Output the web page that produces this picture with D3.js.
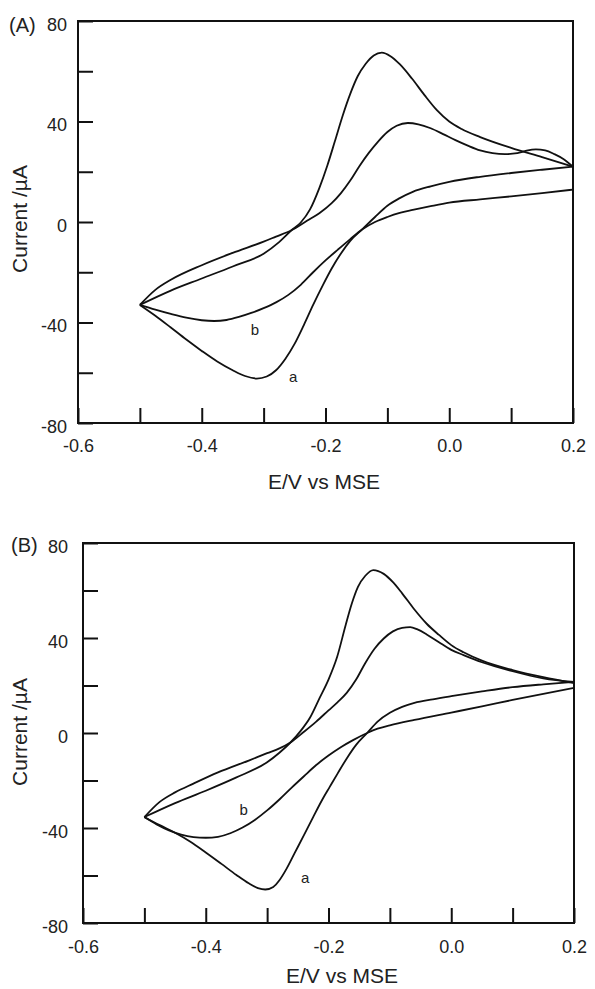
<!DOCTYPE html>
<html>
<head>
<meta charset="utf-8">
<script src="https://cdn.jsdelivr.net/npm/d3@7"></script>
<style>
  body { margin: 0; background: #fff; }
  svg text { font-family: "Liberation Sans", Arial, sans-serif; fill: #222; }
</style>
</head>
<body>
<svg id="chart" width="595" height="989"></svg>
<script>
// each CV loop is kept as its two sweeps: [E (V), I (uA)]
// panel A, curve a
const aA_low = [
  [-0.5,-33],[-0.475,-37.3],[-0.45,-42],[-0.425,-46.8],[-0.4,-51.3],[-0.375,-55.5],[-0.35,-59],
  [-0.33,-61.3],[-0.311,-62.3],[-0.295,-61.5],[-0.28,-59],[-0.265,-54.5],[-0.25,-48.5],[-0.235,-41],
  [-0.22,-33],[-0.204,-25],[-0.19,-18.5],[-0.175,-12.5],[-0.16,-7.5],[-0.141,-3],[-0.12,2],
  [-0.1,6.5],[-0.08,9.5],[-0.059,12],[-0.03,14.2],[0,16],[0.05,18],[0.1,19.5],[0.15,20.8],[0.2,22]
]
const aA_up = [
  [0.2,22],[0.15,25.8],[0.1,29.5],[0.05,33.8],[0.02,37],[0,40],[-0.02,44.5],[-0.04,50.5],
  [-0.06,57],[-0.08,62.8],[-0.095,66],[-0.109,67.4],[-0.122,66.3],[-0.135,63],[-0.148,58],
  [-0.16,51],[-0.172,42.5],[-0.185,32],[-0.197,22.5],[-0.21,13.5],[-0.225,5],[-0.24,-0.2],
  [-0.255,-3.3],[-0.275,-8],[-0.3,-12.6],[-0.35,-17.7],[-0.4,-22.5],[-0.45,-27.3],[-0.5,-33]
]
// panel A, curve b
const bA_low = [
  [-0.5,-33],[-0.475,-34.9],[-0.45,-36.6],[-0.425,-38.1],[-0.4,-39.1],[-0.38,-39.4],[-0.36,-39],
  [-0.34,-37.8],[-0.32,-36.2],[-0.3,-34.3],[-0.28,-32],[-0.26,-29],[-0.24,-25],[-0.22,-20],
  [-0.2,-15.3],[-0.18,-11],[-0.16,-6.8],[-0.141,-3],[-0.12,0],[-0.1,2],[-0.08,3.6],[-0.059,4.8],
  [-0.03,6.3],[0,7.7],[0.05,9],[0.1,10.2],[0.15,11.5],[0.2,12.9]
]
const bA_up = [
  [0.2,22],[0.185,25],[0.17,27],[0.155,28.5],[0.14,28.9],[0.125,28.4],[0.11,27.4],[0.09,27],
  [0.07,27.4],[0.05,28.5],[0.03,30.4],[0.01,32.6],[-0.01,35],[-0.03,37.3],[-0.05,38.9],
  [-0.067,39.4],[-0.085,38.3],[-0.1,35.8],[-0.115,32],[-0.13,27.5],[-0.145,22.3],[-0.16,16.5],
  [-0.175,11.5],[-0.19,7.5],[-0.21,3.5],[-0.23,0.5],[-0.255,-3.3],[-0.28,-5.8],[-0.3,-7.8],
  [-0.35,-12.3],[-0.4,-17.2],[-0.45,-23],[-0.475,-27],[-0.5,-33]
]
// panel B, curve a
const aB_low = [
  [-0.5,-35.4],[-0.475,-38.8],[-0.45,-42],[-0.425,-45.8],[-0.4,-50.3],[-0.375,-55],[-0.35,-59.8],
  [-0.33,-63.3],[-0.315,-65.3],[-0.303,-65.9],[-0.29,-64.8],[-0.28,-62],[-0.268,-57],[-0.255,-50.5],
  [-0.24,-43],[-0.225,-35.4],[-0.21,-28],[-0.198,-22.7],[-0.185,-17],[-0.17,-10.6],[-0.155,-5],
  [-0.137,0],[-0.12,4.8],[-0.1,8.5],[-0.08,11],[-0.06,12.7],[-0.03,14.2],[0,15.5],[0.05,17.5],
  [0.1,19.3],[0.15,20.5],[0.2,21.5]
]
const aB_up = [
  [0.2,21],[0.15,23.5],[0.1,26.5],[0.05,30.5],[0.02,34],[0,37],[-0.02,41.3],[-0.04,46],
  [-0.06,52],[-0.08,58.8],[-0.095,63.5],[-0.11,67],[-0.127,68.6],[-0.14,66.2],[-0.152,61.5],
  [-0.162,54.5],[-0.172,45.5],[-0.186,32],[-0.2,22.5],[-0.214,15],[-0.23,6.5],[-0.245,1],[-0.262,-4],
  [-0.28,-8.3],[-0.3,-12.3],[-0.35,-18.7],[-0.4,-24.3],[-0.45,-29.5],[-0.5,-35.4]
]
// panel B, curve b
const bB_low = [
  [-0.5,-35.4],[-0.48,-38.5],[-0.46,-41],[-0.44,-42.8],[-0.42,-43.8],[-0.4,-44.1],[-0.38,-43.7],
  [-0.36,-42.2],[-0.34,-39.8],[-0.32,-36.6],[-0.3,-32.6],[-0.28,-28],[-0.26,-23],[-0.24,-18.2],
  [-0.22,-13.5],[-0.2,-9.5],[-0.18,-6],[-0.16,-3],[-0.137,0],[-0.12,1.8],[-0.1,3.2],[-0.06,5.5],
  [0,8.6],[0.05,11.2],[0.1,13.9],[0.15,16.5],[0.2,19]
]
const bB_up = [
  [0.2,21.5],[0.15,23],[0.1,26],[0.05,29.8],[0.02,32.8],[0,35],[-0.02,38.2],[-0.04,41.5],
  [-0.055,43.6],[-0.067,44.6],[-0.08,44.3],[-0.095,42.8],[-0.11,39.8],[-0.125,35.5],[-0.14,29.5],
  [-0.155,22.5],[-0.17,17],[-0.185,13],[-0.2,9.5],[-0.22,4.8],[-0.24,0.5],[-0.262,-4],[-0.28,-6.5],
  [-0.3,-8.5],[-0.33,-11.6],[-0.38,-16.6],[-0.42,-21.3],[-0.45,-25],[-0.475,-29],[-0.5,-35.4]
]

const xDomain = [-0.6, 0.2]
const yDomain = [-80, 80]
const xTicks = [-0.6,-0.5,-0.4,-0.3,-0.2,-0.1,0.0,0.1,0.2]
const xLabels = [-0.6,-0.4,-0.2,0.0,0.2]
const yTicks = [-80,-60,-40,-20,0,20,40,60,80]
const yLabels = [-80,-40,0,40,80]

const panels = [
  { tag: '(A)', sweeps: [aA_low, aA_up, bA_low, bA_up], box: [78, 573, 21, 423], yPad: 11, xPad: 16,
    xTitle: [324, 489], yTitle: [27, 219], tagPos: [9, 32],
    labA: [-0.259, -63.7], labB: [-0.321, -45] },
  { tag: '(B)', sweeps: [aB_low, aB_up, bB_low, bB_up], box: [83, 574, 543, 923], yPad: 15, xPad: 17,
    xTitle: [342, 983], yTitle: [27, 732], tagPos: [11, 552],
    labA: [-0.245, -63], labB: [-0.345, -34.5] }
]

const svg = d3.select('#chart')
const fmtX = d => d3.format('.1f')(d).replace('\u2212', '-')

panels.forEach(p => {
  const [l, r, t, b] = p.box
  const x = d3.scaleLinear().domain(xDomain).range([l, r])
  const y = d3.scaleLinear().domain(yDomain).range([b, t])
  const g = svg.append('g')

  // ticks point inward
  const xAxis = d3.axisBottom(x).tickValues(xTicks).tickSize(-15).tickSizeOuter(0)
    .tickPadding(p.xPad)
    .tickFormat(d => xLabels.some(v => Math.abs(v - d) < 1e-9) ? fmtX(d) : '')
  const yAxis = d3.axisLeft(y).tickValues(yTicks).tickSize(-15).tickSizeOuter(0)
    .tickPadding(p.yPad)
    .tickFormat(d => yLabels.includes(d) ? String(d) : '')

  const gx = g.append('g').attr('transform', `translate(0,${b})`).call(xAxis)
  const gy = g.append('g').attr('transform', `translate(${l},0)`).call(yAxis)
  ;[gx, gy].forEach(a => {
    a.select('.domain').remove()
    a.selectAll('line').attr('stroke', '#111').attr('stroke-width', 2)
    a.selectAll('text').attr('font-size', 18).attr('fill', '#222')
      .attr('font-family', '"Liberation Sans", Arial, sans-serif')
  })
  gy.selectAll('text').attr('dy', '0.5em')

  g.append('rect').attr('x', l).attr('y', t).attr('width', r - l).attr('height', b - t)
    .attr('fill', 'none').attr('stroke', '#111').attr('stroke-width', 2)

  const line = d3.line().x(d => x(d[0])).y(d => y(d[1])).curve(d3.curveMonotoneX)
  g.selectAll('path.cv').data(p.sweeps).enter().append('path')
    .attr('class', 'cv')
    .attr('d', s => line(s.slice().sort((m, n) => m[0] - n[0])))
    .attr('fill', 'none').attr('stroke', '#111').attr('stroke-width', 1.8)

  g.append('text').attr('x', x(p.labA[0])).attr('y', y(p.labA[1])).attr('font-size', 15).text('a')
  g.append('text').attr('x', x(p.labB[0])).attr('y', y(p.labB[1])).attr('font-size', 15).text('b')

  g.append('text').attr('x', p.tagPos[0]).attr('y', p.tagPos[1]).attr('font-size', 20).text(p.tag)
  g.append('text').attr('x', p.xTitle[0]).attr('y', p.xTitle[1]).attr('text-anchor', 'middle')
    .attr('font-size', 21).text('E/V vs MSE')
  g.append('text').attr('transform', `translate(${p.yTitle[0]},${p.yTitle[1]}) rotate(-90)`)
    .attr('text-anchor', 'middle').attr('font-size', 21).text('Current /\u00b5A')
})
</script>
</body>
</html>
